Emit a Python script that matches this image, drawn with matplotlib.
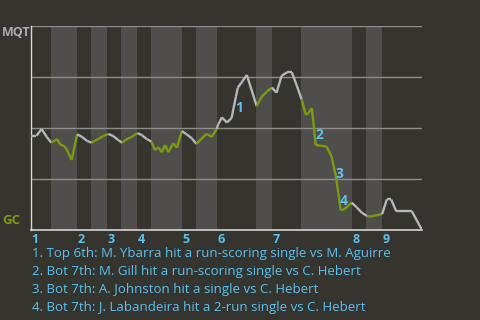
import matplotlib
matplotlib.use("Agg")
import matplotlib.pyplot as plt
import numpy as np

# Game progress (% of game) and MQT win probability at each play
progress = [0, 1.4, 2.7, 4.0, 5.2, 6.1, 6.7, 7.4, 8.4, 9.1, 10.4, 11.8, 13.0, 14.4,
            15.5, 17.2, 18.5, 19.8, 21.0, 22.3, 23.3, 24.5, 25.8, 27.2, 28.3, 29.6,
            30.8, 31.7, 32.6, 33.4, 34.3, 35.1, 36.4, 37.3, 38.6, 39.8, 41.1, 42.3,
            43.7, 44.9, 46.2, 47.5, 47.9, 48.8, 50.1, 51.3, 52.4, 52.9, 54.0, 55.2,
            57.7, 59.0, 60.3, 61.6, 62.8, 64.1, 65.5, 66.7, 68.0, 69.2, 70.3, 70.9,
            71.8, 72.2, 72.8, 75.6, 76.9, 78.0, 78.6, 79.2, 80.1, 82.0, 83.3, 84.6,
            85.9, 86.7, 88.0, 89.8, 91.0, 92.1, 93.4, 97.4, 100]
mqt_prob = [0.462, 0.462, 0.495, 0.457, 0.428, 0.438, 0.446, 0.420, 0.413, 0.396,
            0.343, 0.469, 0.457, 0.436, 0.428, 0.446, 0.461, 0.471, 0.461, 0.441,
            0.428, 0.445, 0.457, 0.475, 0.466, 0.446, 0.433, 0.392, 0.405, 0.381,
            0.417, 0.381, 0.425, 0.403, 0.485, 0.469, 0.450, 0.422, 0.450, 0.471,
            0.457, 0.495, 0.518, 0.552, 0.527, 0.549, 0.653, 0.698, 0.727, 0.760,
            0.608, 0.653, 0.678, 0.698, 0.673, 0.756, 0.773, 0.773, 0.707, 0.641,
            0.564, 0.572, 0.597, 0.534, 0.417, 0.409, 0.359, 0.261, 0.180, 0.098,
            0.101, 0.134, 0.111, 0.085, 0.069, 0.066, 0.071, 0.078, 0.150, 0.150,
            0.092, 0.092, 0.0]

# Half-inning boundaries (progress %), alternating top / bottom
half_edges = [0, 5.1, 11.8, 15.3, 19.4, 23.0, 27.1, 30.7, 38.6, 42.2, 47.6, 57.5,
              61.6, 69.1, 82.1, 85.7, 89.8, 100]
innings = ["1", "2", "3", "4", "5", "6", "7", "8", "9"]

# Key play markers
ann_labels = ["1", "2", "3", "4"]
ann_x = [53.2, 73.7, 78.8, 80.1]
ann_y = [0.598, 0.466, 0.275, 0.142]
notes = [
    "1. Top 6th: M. Ybarra hit a run-scoring single vs M. Aguirre",
    "2. Bot 7th: M. Gill hit a run-scoring single vs C. Hebert",
    "3. Bot 7th: A. Johnston hit a single vs C. Hebert",
    "4. Bot 7th: J. Labandeira hit a 2-run single vs C. Hebert",
]
teams = ["MQT", "GC"]

BG = "#36342f"
BAND = "#4f4e4c"
GRID = "#8d8c89"
AXIS = "#d6d6d4"
GREY = "#b2b6b9"
GREEN = "#7a9c0e"
BLUE = "#5bc0eb"
FONT = ["Open Sans", "DejaVu Sans"]

fig = plt.figure(figsize=(4.8, 3.2), dpi=100, facecolor=BG)
ax = fig.add_axes([31 / 480, 1 - 230 / 320, 391 / 480, 204 / 320])
ax.set_facecolor(BG)
ax.set_xlim(0, 100)
ax.set_ylim(0, 1)

# bands for bottom halves
for k in range(len(half_edges) - 1):
    if k % 2 == 1:
        ax.axvspan(half_edges[k], half_edges[k + 1], color=BAND, lw=0, zorder=0)

for gy in [0.25, 0.5, 0.75, 1.0]:
    ax.axhline(gy, color=GRID, lw=1, zorder=1)

# line, coloured by half-inning
x = np.array(progress)
y = np.array(mqt_prob)
for i in range(len(x) - 1):
    mid = (x[i] + x[i + 1]) / 2
    k = np.searchsorted(half_edges, mid, side="right") - 1
    col = GREY if k % 2 == 0 else GREEN
    ax.plot(x[i:i + 2], y[i:i + 2], color=col, lw=1.7, solid_capstyle="butt",
            solid_joinstyle="miter", zorder=3)

for lab, ax_, ay in zip(ann_labels, ann_x, ann_y):
    ax.text(ax_, ay, lab, color=BLUE, fontsize=10, fontweight="bold", family=FONT,
            ha="center", va="center", zorder=4)

for sp in ["top", "right"]:
    ax.spines[sp].set_visible(False)
ax.spines["left"].set_color(AXIS)
ax.spines["bottom"].set_color(AXIS)
ax.spines["left"].set_linewidth(1)
ax.spines["bottom"].set_linewidth(1.2)
ax.set_xticks([])
ax.set_yticks([])

# inning labels
top_starts = half_edges[0::2][:len(innings)]
for lab, xs in zip(innings, top_starts):
    ax.annotate(lab, xy=(xs, 0), xytext=(3, -7), textcoords="offset points",
                color=BLUE, fontsize=9, fontweight="bold", family=FONT,
                ha="center", va="center", annotation_clip=False)

fig.text(2 / 480, 1 - 33 / 320, teams[0], color="#a8acb0", fontsize=9,
         fontweight="bold", family=FONT, ha="left", va="center")
fig.text(2 / 480, 1 - 221 / 320, teams[1], color=GREEN, fontsize=9.5,
         fontweight="bold", family=FONT, ha="left", va="center")

for j, t in enumerate(notes):
    fig.text(32 / 480, 1 - (254 + 18 * j) / 320, t, color=BLUE, fontsize=9.5,
             family=FONT, ha="left", va="center")

fig.savefig("out.png", dpi=100, facecolor=BG)
